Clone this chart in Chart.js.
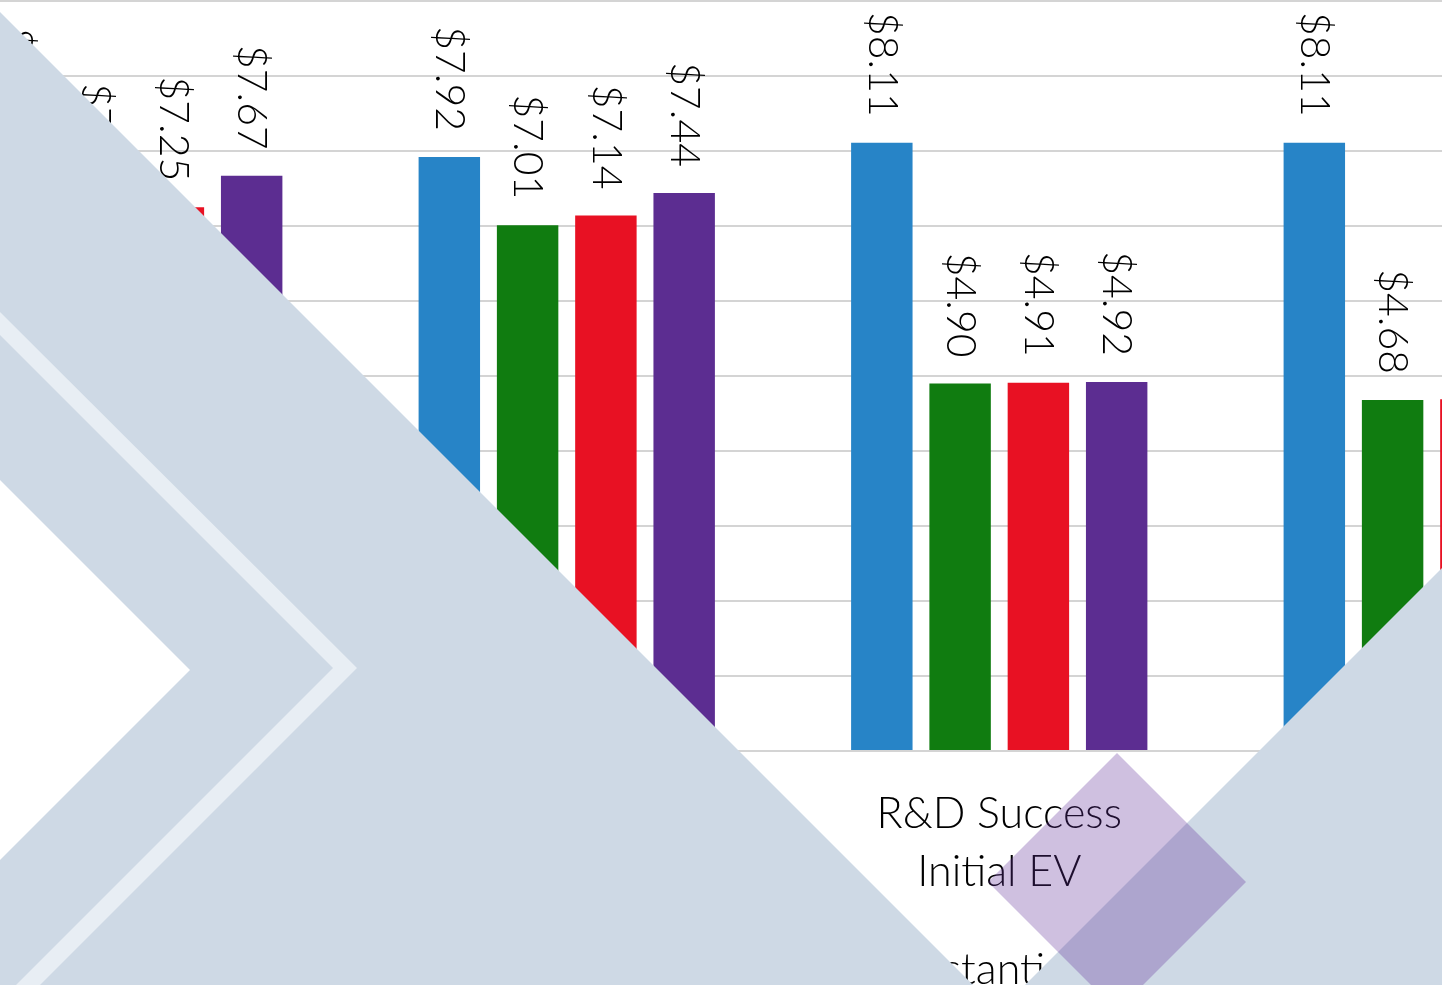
<!DOCTYPE html>
<html>
<head>
<meta charset="utf-8">
<script src="https://cdn.jsdelivr.net/npm/chart.js@4.4.1/dist/chart.umd.min.js"></script>
<style>
  html, body { margin: 0; padding: 0; background: #ffffff; overflow: hidden; }
  #stage { position: relative; width: 1442px; height: 985px; overflow: hidden; background: #ffffff; }
  #chart { position: absolute; left: -182px; top: -100px; }
  #outer { position: absolute; left: 873px; top: 946px; font-family: Lato, "Open Sans", sans-serif; font-weight: 300; font-size: 43px; line-height: 44px; color: #000; white-space: nowrap; }
  #deco { position: absolute; left: 0; top: 0; }
</style>
</head>
<body>
<div id="stage">
  <canvas id="chart" width="1930" height="1185"></canvas>
  <div id="outer">Substantial</div>
  <svg id="deco" width="1442" height="985" viewBox="0 0 1442 985">
    <polygon points="0,12 973,985 0,985" fill="#CED9E5"/>
    <polygon points="0,480 190,670 0,860" fill="#FFFFFF"/>
    <polygon points="0,312 357,668 0,1025 0,1001 333,668 0,335" fill="#E8EEF4"/>
    <polygon points="1442,568 1442,985 1025,985" fill="#CED9E5"/>
    <polygon points="1117,753 1246,882 1117,1011 988,882" fill="rgba(95,48,152,0.3)"/>
  </svg>
</div>
<script>
// ---- data ----
const categories = [
  ["Base Case", "Initial EV"],
  ["R&D Failure", "Initial EV"],
  ["R&D Success", "Initial EV"],
  ["R&D Success", "Final EV"]
];
const seriesNames = ["Scenario 1", "Scenario 2", "Scenario 3", "Scenario 4"];
const blueValues   = [7.90, 7.92, 8.11, 8.11];
const greenValues  = [7.16, 7.01, 4.90, 4.68];
const redValues    = [7.25, 7.14, 4.91, 4.69];
const purpleValues = [7.67, 7.44, 4.92, 4.70];
const seriesColors = ["#2784C7", "#107C10", "#E81123", "#5C2D91"];
const yMin = 0, yMax = 10, yStep = 1;

const FONT = "Lato, 'Open Sans', sans-serif";

const valueLabels = {
  id: 'valueLabels',
  afterDatasetsDraw(chart) {
    const ctx = chart.ctx;
    ctx.save();
    ctx.font = "300 41px " + FONT;
    ctx.fillStyle = "#000000";
    ctx.textAlign = "right";
    ctx.textBaseline = "middle";
    chart.data.datasets.forEach((ds, i) => {
      const meta = chart.getDatasetMeta(i);
      meta.data.forEach((el, j) => {
        const v = ds.data[j];
        ctx.save();
        ctx.translate(el.x, el.y - 26);
        ctx.rotate(Math.PI / 2);
        ctx.fillText("$" + v.toFixed(2), 0, 0);
        ctx.restore();
      });
    });
    ctx.restore();
  }
};

const allSeries = [blueValues, greenValues, redValues, purpleValues];

new Chart(document.getElementById('chart'), {
  type: 'bar',
  data: {
    labels: categories,
    datasets: allSeries.map((vals, i) => ({
      label: seriesNames[i],
      data: vals,
      backgroundColor: seriesColors[i],
      borderWidth: 0,
      categoryPercentage: 0.724,
      barPercentage: 0.785
    }))
  },
  options: {
    responsive: false,
    animation: false,
    devicePixelRatio: 1,
    layout: { padding: { left: 100, right: 100, top: 101, bottom: 0 } },
    plugins: { legend: { display: false }, tooltip: { enabled: false }, title: { display: false } },
    scales: {
      x: {
        grid: { display: false, drawTicks: false },
        border: { display: false },
        ticks: {
          color: "#000000",
          font: { family: FONT, size: 43, weight: 300, lineHeight: 1.33 },
          padding: 35,
          maxRotation: 0,
          autoSkip: false
        },
        afterFit(s) { s.height = 334; }
      },
      y: {
        min: yMin, max: yMax,
        ticks: { display: false, stepSize: yStep },
        grid: { color: "#D4D4D4", lineWidth: 2, drawTicks: false },
        border: { display: false },
        afterFit(s) { s.width = 0; }
      }
    }
  },
  plugins: [valueLabels]
});
</script>
</body>
</html>
